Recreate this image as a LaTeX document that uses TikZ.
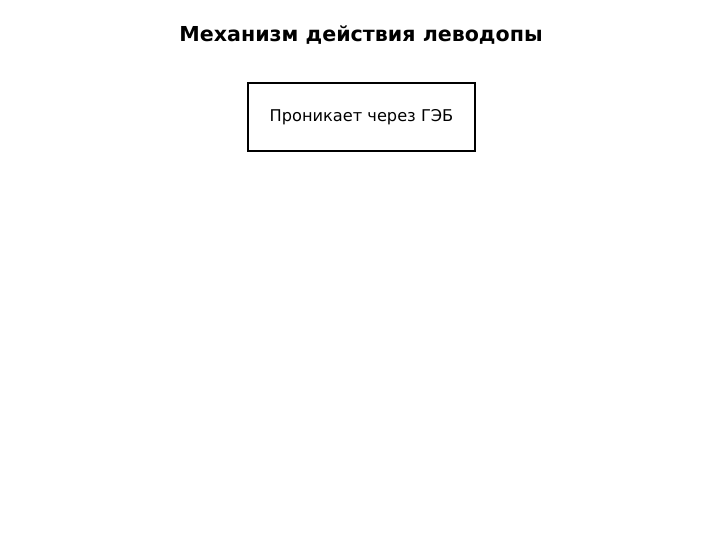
\documentclass[tikz,border=0pt]{standalone}
\usepackage{fontspec}
\setmainfont{DejaVu Sans}
\begin{document}
\begin{tikzpicture}[x=1pt,y=-1pt,
  titletext/.style={font=\bfseries\fontsize{20.6}{24}\selectfont, anchor=center, inner sep=0pt},
  boxnode/.style={draw=black, line width=1.6pt, minimum width=227pt, minimum height=68pt, inner sep=0pt, font=\fontsize{16.2}{19}\selectfont}]
\useasboundingbox (0,0) rectangle (720,540);
\node[titletext] (title) at (361,35) {Механизм действия леводопы};
\node[boxnode] (box) at (361.5,117) {Проникает через ГЭБ};
\end{tikzpicture}
\end{document}
